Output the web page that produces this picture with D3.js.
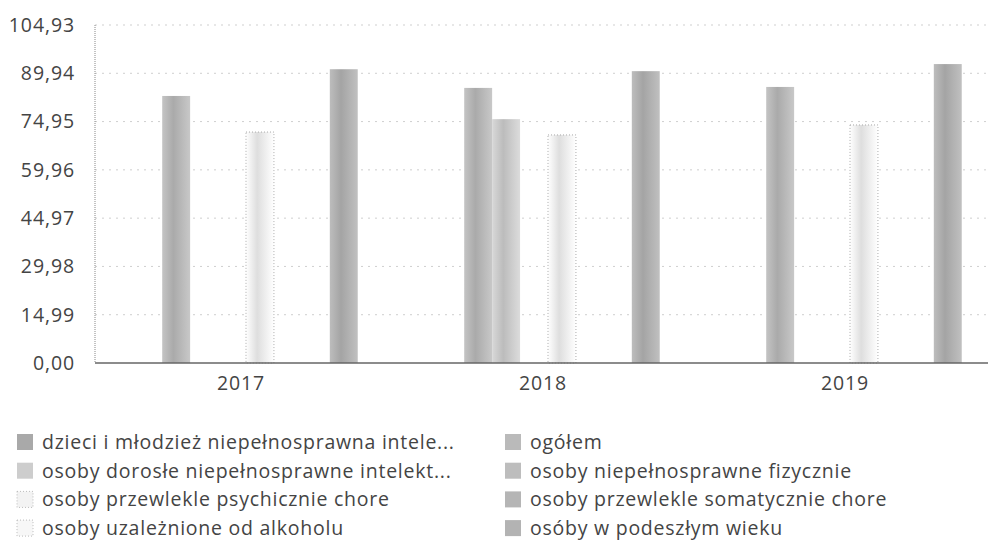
<!DOCTYPE html>
<head>
  <meta charset="utf-8">
  <script src="https://d3js.org/d3.v7.min.js"></script>
  <style>
    body { margin: 0; background: #fff; font-family: "Open Sans", sans-serif; }
    .tick-label { fill: #444; font-size: 19.5px; letter-spacing: 0.9px; }
    .legend text { fill: #444; font-size: 19.5px; letter-spacing: 0.75px; }
  </style>
</head>
<body>
  <svg id="chart" width="988" height="542"></svg>
  <script>
    // categories and series
    const years = ["2017", "2018", "2019"];
    const seriesNames = [
      "dzieci i młodzież niepełnosprawna intele...",
      "ogółem",
      "osoby dorosłe niepełnosprawne intelekt...",
      "osoby niepełnosprawne fizycznie",
      "osoby przewlekle psychicznie chore",
      "osoby przewlekle somatycznie chore",
      "osoby uzależnione od alkoholu",
      "osóby w podeszłym wieku"
    ];
    const dzieci = [null, null, null];
    const ogolem = [82.9, 85.4, 85.7];
    const dorosle = [null, 75.7, null];
    const fizycznie = [null, null, null];
    const psychicznie = [71.7, 70.8, 73.9];
    const somatycznie = [null, null, null];
    const alkohol = [null, null, null];
    const podeszly = [91.2, 90.6, 92.8];
    const seriesValues = [dzieci, ogolem, dorosle, fizycznie, psychicznie, somatycznie, alkohol, podeszly];
    const yTicks = [0, 14.99, 29.98, 44.97, 59.96, 74.95, 89.94, 104.93];

    const colors = ["#a9a9a9", "#bababa", "#cdcdcd", "#bdbdbd", "#f3f3f3", "#b5b5b5", "#f7f7f7", "#b3b3b3"];
    const dotted = [false, false, false, false, true, false, true, false];

    const svg = d3.select("#chart");
    const plot = { left: 95, right: 1001, top: 25, bottom: 363 };

    const pl = d3.formatLocale({ decimal: ",", thousands: " ", grouping: [3], currency: ["", " zł"] });
    const fmt = pl.format(".2f");

    const x0 = d3.scaleBand().domain(years).range([plot.left, plot.right]).paddingInner(0.26).paddingOuter(0.13);
    const x1 = d3.scaleBand().domain(d3.range(seriesNames.length)).range([0, x0.bandwidth()]);
    const y = d3.scaleLinear().domain([0, 104.93]).range([plot.bottom, plot.top]);

    // gradients giving the scanned bar look
    const defs = svg.append("defs");
    colors.forEach((c, i) => {
      const g = defs.append("linearGradient").attr("id", "g" + i).attr("x1", "0").attr("x2", "1").attr("y1", "0").attr("y2", "0");
      const base = d3.color(c);
      g.append("stop").attr("offset", "0").attr("stop-color", base.brighter(0.15));
      g.append("stop").attr("offset", "0.4").attr("stop-color", base.darker(0.25));
      g.append("stop").attr("offset", "1").attr("stop-color", base.brighter(0.2));
    });

    // grid
    svg.append("g").selectAll("line").data(yTicks.slice(1)).join("line")
      .attr("x1", plot.left).attr("x2", 988)
      .attr("y1", d => y(d)).attr("y2", d => y(d))
      .attr("stroke", "#cfcfcf").attr("stroke-dasharray", "2,5");
    svg.append("line").attr("x1", plot.left).attr("x2", plot.left)
      .attr("y1", plot.top).attr("y2", plot.bottom)
      .attr("stroke", "#888").attr("stroke-dasharray", "1,1");

    // y labels
    svg.append("g").selectAll("text").data(yTicks).join("text")
      .attr("class", "tick-label")
      .attr("x", 75).attr("y", d => y(d)).attr("dy", "0.35em")
      .attr("text-anchor", "end").text(d => fmt(d));

    // bars
    const groups = svg.append("g").selectAll("g").data(years).join("g")
      .attr("transform", d => `translate(${x0(d)},0)`);
    groups.selectAll("rect")
      .data((yr, yi) => seriesValues.map((vals, si) => ({ si, v: vals[yi] })).filter(d => d.v != null))
      .join("rect")
      .attr("x", d => x1(d.si))
      .attr("width", x1.bandwidth())
      .attr("y", d => y(d.v))
      .attr("height", d => y(0) - y(d.v))
      .attr("fill", d => `url(#g${d.si})`)
      .attr("stroke", d => dotted[d.si] ? "#aaa" : "none")
      .attr("stroke-dasharray", d => dotted[d.si] ? "1,2" : null);

    // baseline
    svg.append("line").attr("x1", plot.left).attr("x2", 988)
      .attr("y1", plot.bottom).attr("y2", plot.bottom).attr("stroke", "#666").attr("stroke-width", 1.5);

    // x labels
    svg.append("g").selectAll("text").data(years).join("text")
      .attr("class", "tick-label")
      .attr("x", d => x0(d) + x0.bandwidth() / 2 - 5).attr("y", 390)
      .attr("text-anchor", "middle").text(d => d);

    // legend, two columns, row-major
    const legend = svg.append("g").attr("class", "legend");
    const items = legend.selectAll("g").data(seriesNames).join("g")
      .attr("transform", (d, i) => `translate(${i % 2 === 0 ? 17 : 505},${442 + Math.floor(i / 2) * 28.7})`);
    items.append("rect")
      .attr("x", 0).attr("y", -8).attr("width", 16).attr("height", 16)
      .attr("fill", (d, i) => colors[i])
      .attr("stroke", (d, i) => dotted[i] ? "#bbb" : "none")
      .attr("stroke-dasharray", "1,2");
    items.append("text").attr("x", 25).attr("dy", "0.35em").text(d => d);
  </script>
</body>
